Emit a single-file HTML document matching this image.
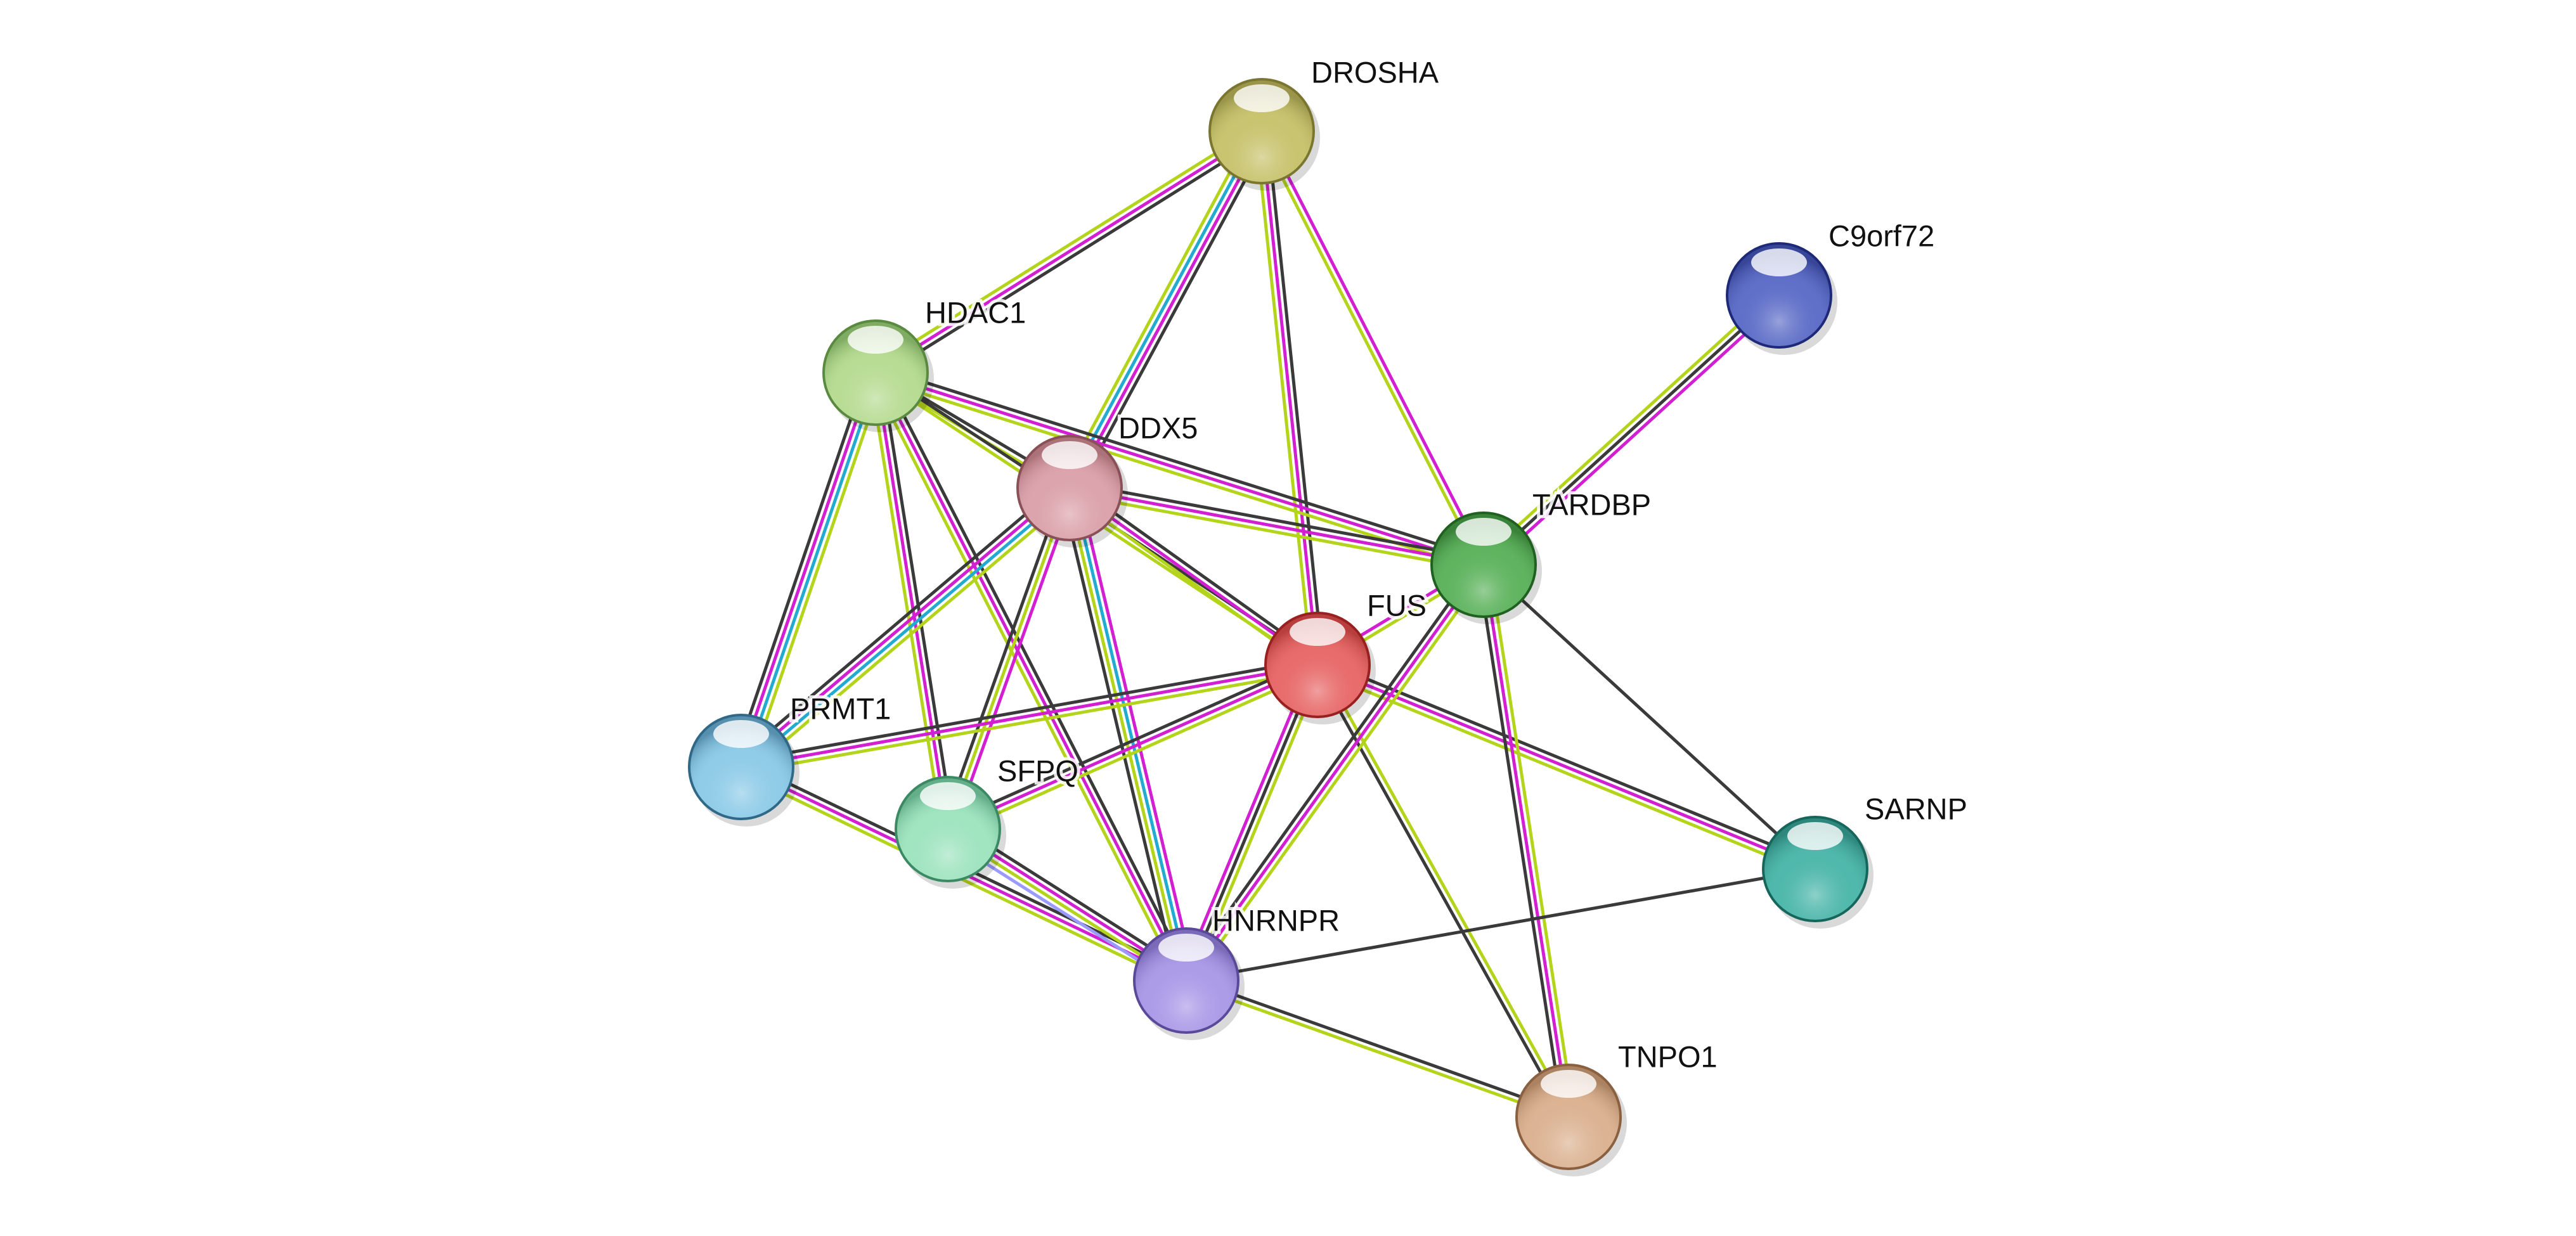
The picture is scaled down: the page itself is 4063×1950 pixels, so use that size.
<!DOCTYPE html>
<html><head><meta charset="utf-8"><style>
html,body{margin:0;padding:0;background:#fff;}
svg{display:block}
text{font-family:"Liberation Sans",sans-serif;font-size:47px;fill:#111;}
</style></head><body>
<svg id="s" width="4063" height="1950" viewBox="0 0 4063 1950" xmlns="http://www.w3.org/2000/svg">
<defs id="d"></defs>
<g id="edges"></g><g id="nodes"></g><g id="labels"></g>
</svg>
<script>
var N={
DROSHA:[1990,207,'#c9c470','#7a7630',2068,118],
C9orf72:[2806,466,'#6070c8','#1e2a78',2884,376],
HDAC1:[1381,588,'#b8dc94','#5a8a40',1459,497],
DDX5:[1687,770,'#dca4ac','#8a5058',1764,679],
TARDBP:[2340,891,'#60b460','#206020',2417,800],
FUS:[2078,1049,'#e86c6c','#982020',2156,959],
PRMT1:[1169,1210,'#90cce8','#306888',1246,1122],
SFPQ:[1495,1308,'#a0e4c0','#3c8a64',1573,1220],
SARNP:[2863,1371,'#50b8ac','#17665c',2941,1280],
HNRNPR:[1871,1547,'#ac9ce8','#5a4898',1912,1456],
TNPO1:[2474,1762,'#dcb494','#8a6040',2552,1671]
};
var C={k:'#3a3a3a',m:'#d21fd2',y:'#b4d41c',c:'#22aad0',b:'#9a9aff'};
var E=[
['DROSHA','HDAC1','kmy'],['DROSHA','DDX5','kmcy'],['DROSHA','FUS','kmy'],['DROSHA','TARDBP','my'],
['C9orf72','TARDBP','mky'],['HDAC1','DDX5','ky'],['HDAC1','TARDBP','kmy'],['HDAC1','FUS','ky'],
['HDAC1','PRMT1','ycmk'],['HDAC1','SFPQ','kmy'],['HDAC1','HNRNPR','kmy'],
['DDX5','TARDBP','kmy'],['DDX5','FUS','kmy'],['DDX5','PRMT1','ycmk'],['DDX5','SFPQ','myk'],
['DDX5','HNRNPR','mcyk'],['FUS','TARDBP','my'],['FUS','PRMT1','ymk'],['FUS','SFPQ','ymk'],
['FUS','HNRNPR','ykm'],['FUS','SARNP','kmy'],['FUS','TNPO1','yk'],['TARDBP','HNRNPR','ymk'],
['TARDBP','TNPO1','ymk'],['TARDBP','SARNP','k'],['PRMT1','HNRNPR','kmy'],['SFPQ','HNRNPR','kmyb'],
['HNRNPR','SARNP','k'],['HNRNPR','TNPO1','ky']
];
var eg=document.getElementById('edges'),h='';
E.forEach(function(e){var a=N[e[0]],b=N[e[1]],dx=b[0]-a[0],dy=b[1]-a[1],L=Math.hypot(dx,dy),px=-dy/L,py=dx/L,n=e[2].length;
for(var i=0;i<n;i++){var o=(i-(n-1)/2)*9;h+='<line x1="'+(a[0]+px*o)+'" y1="'+(a[1]+py*o)+'" x2="'+(b[0]+px*o)+'" y2="'+(b[1]+py*o)+'" stroke="'+C[e[2][i]]+'" stroke-width="5"/>';}});
eg.innerHTML=h;
var d='',nh='',lh='';
Object.keys(N).forEach(function(k,i){var v=N[k];
d+='<radialGradient id="g'+i+'" cx="50%" cy="75%" r="65%"><stop offset="0" stop-color="#fff" stop-opacity="0.35"/><stop offset="0.6" stop-color="'+v[2]+'" stop-opacity="0"/><stop offset="1" stop-color="'+v[3]+'" stop-opacity="0.6"/></radialGradient>';
nh+='<circle cx="'+(v[0]+8)+'" cy="'+(v[1]+10)+'" r="84" fill="#000" opacity="0.15"/><circle cx="'+v[0]+'" cy="'+v[1]+'" r="82" fill="'+v[2]+'"/><circle cx="'+v[0]+'" cy="'+v[1]+'" r="82" fill="url(#g'+i+')" stroke="'+v[3]+'" stroke-width="4"/><ellipse cx="'+v[0]+'" cy="'+(v[1]-52)+'" rx="44" ry="22" fill="#fff" opacity="0.8"/>';
lh+='<text x="'+v[4]+'" y="'+v[5]+'" dominant-baseline="middle" stroke="#fff" stroke-width="10" stroke-opacity="0.85" paint-order="stroke">'+k+'</text>';});
document.getElementById('d').innerHTML=d;
document.getElementById('nodes').innerHTML=nh;
document.getElementById('labels').innerHTML=lh;
</script>
</body></html>
